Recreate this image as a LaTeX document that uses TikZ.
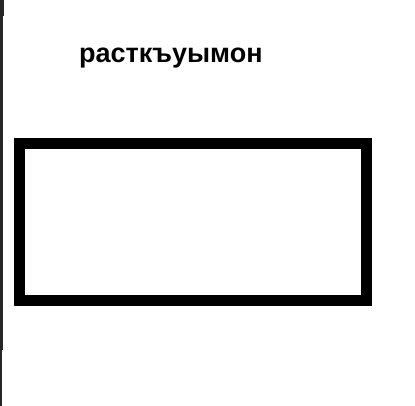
\documentclass[tikz,border=0pt]{standalone}
\usepackage{fontspec}
\setmainfont{Liberation Sans}
\tikzstyle{ttl}=[font=\bfseries\fontsize{27}{32}\selectfont,inner sep=0pt,anchor=base west]
\tikzstyle{frm}=[draw=black,line width=11pt]
\tikzstyle{bar}=[fill=black!85,draw=none]

\begin{document}
\begin{tikzpicture}[x=1pt,y=-1pt]
\useasboundingbox (0,0) rectangle (415,406);
\fill[white] (0,0) rectangle (415,406);
\fill[bar] (0,0) rectangle (4,16); \fill[bar] (0,16) rectangle (3,350); \fill[bar] (0,350) rectangle (2,406);
\node[ttl] (title) at (79,63) {расткъуымон};
\draw[frm] (19.5,143.5) rectangle (366,300.5);
\end{tikzpicture}
\end{document}
